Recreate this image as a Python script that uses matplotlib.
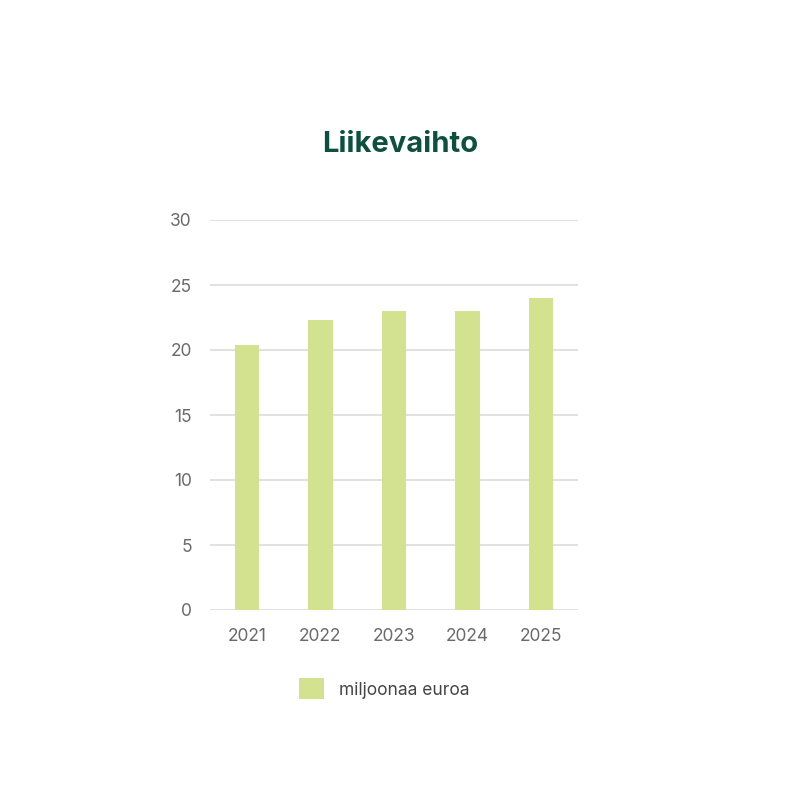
import matplotlib
matplotlib.use("Agg")
import matplotlib.pyplot as plt
from matplotlib.patches import Patch

plt.rcParams['font.family'] = ['Inter', 'DejaVu Sans']

years = ["2021", "2022", "2023", "2024", "2025"]
values = [20.4, 22.3, 23.0, 23.0, 24.0]
y_ticks = [0, 5, 10, 15, 20, 25, 30]
series_label = "miljoonaa euroa"
title = "Liikevaihto"

bar_color = "#d3e28f"
grid_color = "#dcdcdc"
text_color = "#6a6a6a"

fig = plt.figure(figsize=(8, 8), dpi=100)
ax = fig.add_axes([0.2625, 0.2375, 0.46, 0.4875])

x = list(range(len(years)))
ax.bar(x, values, width=0.33, color=bar_color, zorder=3)
ax.set_xlim(-0.5, len(years) - 0.5)
ax.set_ylim(0, 30)
ax.set_yticks(y_ticks)
ax.set_yticklabels([str(t) for t in y_ticks])
ax.set_xticks(x)
ax.set_xticklabels(years)
ax.grid(axis='y', color=grid_color, linewidth=1.2, zorder=0)
for s in ax.spines.values():
    s.set_visible(False)
ax.tick_params(axis='both', length=0, colors=text_color, labelsize=12.5)
ax.tick_params(axis='y', pad=13)
ax.tick_params(axis='x', pad=13)

fig.text(0.5, 0.82, title, ha='center', va='center', fontsize=21,
         fontweight='bold', color='#0d5040')

handle = Patch(facecolor=bar_color, edgecolor='none')
fig.legend([handle], [series_label], loc='center', bbox_to_anchor=(0.48, 0.139),
           frameon=False, fontsize=12.5, handlelength=1.45, handleheight=1.45,
           handletextpad=0.85, labelcolor='#444444')

fig.savefig("out.png", dpi=100, facecolor='white')
